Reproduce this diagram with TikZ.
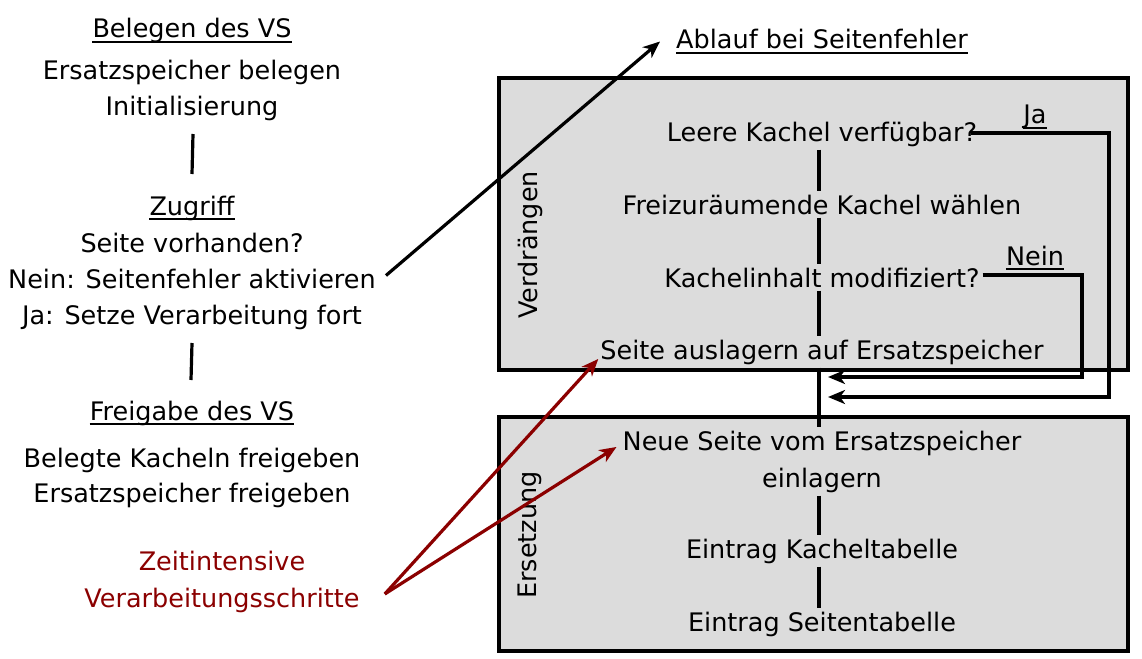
\documentclass[tikz,border=0pt]{standalone}
\usepackage{fontspec}
\setmainfont{DejaVu Sans}
\usetikzlibrary{arrows.meta}
\definecolor{boxgray}{HTML}{DCDCDC}
\definecolor{darkred}{HTML}{8B0000}
\begin{document}
\begin{tikzpicture}[x=1pt,y=-1pt,
  txt/.style={inner sep=0pt, anchor=base, font=\fontsize{25.5}{30}\selectfont},
  ul/.style={append after command={([yshift=-4pt]\tikzlastnode.base west) edge[line width=1.8pt] ([yshift=-4pt]\tikzlastnode.base east)}},
  box/.style={draw, line width=3.8pt, fill=boxgray},
  seg/.style={line width=3.2pt, shorten >=3pt, shorten <=3pt},
  flow/.style={line width=3.2pt, -{Stealth[length=17pt,width=14pt,inset=5pt]}},
  hot/.style={line width=3.2pt, draw=darkred, -{Stealth[length=17pt,width=14pt,inset=5pt]}}]
\useasboundingbox (0,0) rectangle (1142,658);

% process boxes
\draw[box] (499,78) rectangle (1128,370);
\draw[box] (499,417) rectangle (1128,651);
\node[txt, anchor=center, rotate=90] at (530,245) {Verdrängen};
\node[txt, anchor=center, rotate=90] at (530,535) {Ersetzung};

% left column: life cycle of the virtual memory
\node[txt, ul] (beleg) at (192,38) {Belegen des VS};
\node[txt] (ersatz) at (192,80) {Ersatzspeicher belegen};
\node[txt] (init) at (192,116) {Initialisierung};
\node[txt, ul] (zugriff) at (192,215) {Zugriff};
\node[txt] (vorh) at (192,252) {Seite vorhanden?};
\node[txt] (nein) at (192,288) {Nein: Seitenfehler aktivieren};
\node[txt] (ja) at (192,324) {Ja: Setze Verarbeitung fort};
\node[txt, ul] (freig) at (192,420) {Freigabe des VS};
\node[txt] (kfrei) at (192,467) {Belegte Kacheln freigeben};
\node[txt] (efrei) at (192,502) {Ersatzspeicher freigeben};
\node[txt, text=darkred] (zeit) at (222,570) {Zeitintensive};
\node[txt, text=darkred] (verarb) at (222,607) {Verarbeitungsschritte};

\draw[line width=3.2pt] (193,134) -- (192,174);
\draw[line width=3.2pt] (192,343) -- (191,380);

% page fault handling
\node[txt, ul] (ablauf) at (822,49) {Ablauf bei Seitenfehler};
\coordinate (spine) at (819,0);
\node[txt] (leere) at (822,141) {Leere Kachel verfügbar?};
\node[txt] (wahl) at (822,214) {Freizuräumende Kachel wählen};
\node[txt] (mod) at (822,287) {Kachelinhalt modifiziert?};
\node[txt] (ausl) at (822,359) {Seite auslagern auf Ersatzspeicher};
\node[txt] (neue) at (822,450) {Neue Seite vom Ersatzspeicher};
\node[txt] (einl) at (822,487) {einlagern};
\node[txt] (ktab) at (822,558) {Eintrag Kacheltabelle};
\node[txt] (stab) at (822,631) {Eintrag Seitentabelle};
\node[txt, ul] (jalab) at (1035,124) {Ja};
\node[txt, ul] (neinlab) at (1035,265) {Nein};

\draw[seg] (leere.south -| spine) -- (wahl.north -| spine);
\draw[seg] (wahl.south -| spine) -- (mod.north -| spine);
\draw[seg] (mod.south -| spine) -- (ausl.north -| spine);
\draw[seg] (ausl.south -| spine) -- (neue.north -| spine);
\draw[seg] (einl.south -| spine) -- (ktab.north -| spine);
\draw[seg] (ktab.south -| spine) -- (stab.north -| spine);

% Ja / Nein branches back to the replacement step
\coordinate (jacorner) at (1109,133);
\coordinate (neincorner) at (1082,275);
\coordinate (jatip) at (828,397);
\coordinate (neintip) at (828,377);
\draw[flow] ([xshift=-6pt]leere.east |- jacorner) -- (jacorner) |- (jatip);
\draw[flow] ([xshift=3pt]mod.east |- neincorner) -- (neincorner) |- (neintip);

\draw[flow] ([xshift=10pt,yshift=3pt]nein.east) -- ([xshift=-16pt,yshift=-2pt]ablauf.west);

\draw[hot] ([xshift=25pt,yshift=6pt]verarb.east) -- ([xshift=-2pt,yshift=-7pt]ausl.west);
\draw[hot] ([xshift=25pt,yshift=6pt]verarb.east) -- ([xshift=-6pt,yshift=-4pt]neue.west);
\end{tikzpicture}
\end{document}
